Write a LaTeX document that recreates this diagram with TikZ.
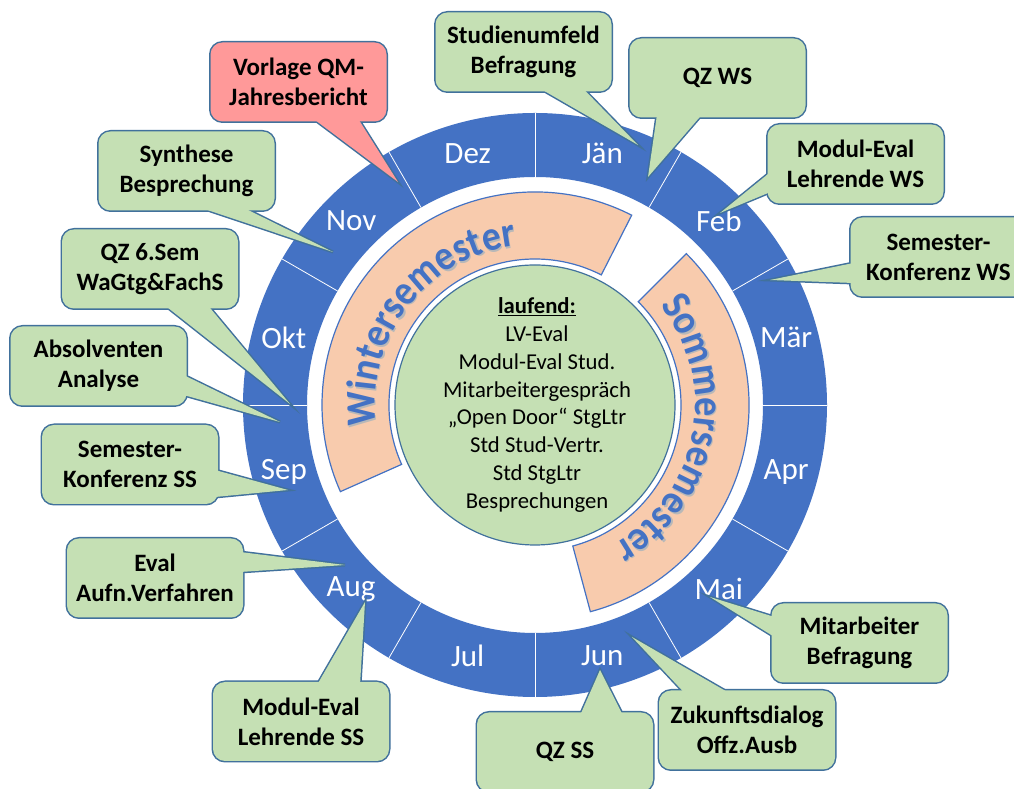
\documentclass[tikz,border=0pt]{standalone}
\usepackage{fontspec}
\setmainfont{Carlito}
\newfontfamily\semfam[FakeStretch=0.9]{Carlito}
\usetikzlibrary{calc,decorations.text}
\definecolor{ringblue}{HTML}{4472C4}
\definecolor{cborder}{HTML}{41719C}
\definecolor{cgreen}{HTML}{C5E0B4}
\definecolor{cpeach}{HTML}{F8CBAD}
\definecolor{cred}{HTML}{FF9999}
\newcommand{\semfont}{\semfam\bfseries\fontsize{42}{44}\selectfont}
% #1 name, #2 centre, #3 tip, #4 fill, #5 base point 1 (offset), #6 base point 2 (offset), #7 text
\newcommand{\mkcallout}[7]{%
  \coordinate (#1) at (#2);
  \coordinate (#1tip) at (#3);
  \path[calloutedge, fill=#4] ($(#1)+(#5)$) -- (#1tip) -- ($(#1)+(#6)$) -- cycle;
  \path[calloutedge, fill=#4, rounded corners=12] ($(#1)+(-88,-39.5)$) rectangle ($(#1)+(88,39.5)$);
  \fill[#4] ($(#1)+(#5)$) -- (#1tip) -- ($(#1)+(#6)$) -- cycle;
  \fill[#4, rounded corners=12] ($(#1)+(-88,-39.5)$) rectangle ($(#1)+(88,39.5)$);
  \node[calloutlabel] (#1text) at (#1) {#7};
}
\begin{document}
\begin{tikzpicture}[x=1pt,y=1pt,
  calloutedge/.style={draw=cborder, line width=3},
  calloutlabel/.style={align=center, font=\bfseries\fontsize{25}{30}\selectfont, text=black, inner sep=0},
  monthlabel/.style={text=white, font=\fontsize{31}{37}\selectfont, inner sep=0},
  divider/.style={draw=white, line width=0.8},
  semarc/.style={fill=cpeach, draw=ringblue, line width=1.2}
]
\useasboundingbox (0,0) rectangle (1014,789);
\clip (0,0) rectangle (1014,789);
\fill[white] (0,0) rectangle (1014,789);
\coordinate (C) at (535,384);

% month ring
\fill[ringblue, even odd rule] (C) circle (292) (C) circle (228);
\foreach \a in {0,30,...,330}
  \draw[divider] ($(C)+(\a:228)$) -- ($(C)+(\a:292)$);
\foreach \lab/\ang [count=\i] in {Dez/105, Jän/75, Feb/45, Mär/15, Apr/-15, Mai/-45, Jun/-75, Jul/-105, Aug/-135, Sep/-165, Okt/165, Nov/135}
  \node[monthlabel] (month\i) at ($(C)+(\ang:260)$) {\lab};

% semester arcs
\path[semarc] ($(C)+(63:213)$) arc[start angle=63, end angle=204, radius=213]
  -- ($(C)+(204:146)$) arc[start angle=204, end angle=63, radius=146] -- cycle;
\path[semarc] ($(C)+(-75:214)$) arc[start angle=-75, end angle=45, radius=214]
  -- ($(C)+(45:146)$) arc[start angle=45, end angle=-75, radius=146] -- cycle;

\path[decorate, decoration={text along path, text={|\semfont|Wintersemester}, text align=center, text color=black!28}]
  ($(C)+(1.5,-1.5)+(200:160)$) arc[start angle=200, end angle=84, radius=160];
\path[decorate, decoration={text along path, text={|\semfont|Wintersemester}, text align=center, text color=ringblue}]
  ($(C)+(200:160)$) arc[start angle=200, end angle=84, radius=160];
\path[decorate, decoration={text along path, text={|\semfont|Sommersemester}, text align=center, text color=black!28}]
  ($(C)+(1.5,-1.5)+(50:160)$) arc[start angle=50, end angle=-72, radius=160];
\path[decorate, decoration={text along path, text={|\semfont|Sommersemester}, text align=center, text color=ringblue}]
  ($(C)+(50:160)$) arc[start angle=50, end angle=-72, radius=160];

% centre circle
\filldraw[fill=cgreen, draw=cborder, line width=1.2] (C) circle (140);
\node[align=center, font=\fontsize{22.7}{27.8}\selectfont, inner sep=0] (laufend) at ($(C)+(2,0)$)
  {\textbf{\underline{laufend:}}\\LV-Eval\\Modul-Eval Stud.\\Mitarbeitergespräch\\„Open Door“ StgLtr\\Std Stud-Vertr.\\Std StgLtr\\Besprechungen};

% callouts
\mkcallout{vorlage}{298.5,707}{398,607}{cred}{14.5,-36.5}{59.5,-36.5}{Vorlage QM-\\Jahresbericht}
\mkcallout{studien}{523.5,737}{638,644}{cgreen}{16.5,-36.5}{59.5,-36.5}{Studienumfeld\\Befragung}
\mkcallout{qzws}{717.5,711}{648,612}{cgreen}{-60.5,-36.5}{-15.5,-36.5}{QZ WS}
\mkcallout{modws}{855.5,625}{720,576}{cgreen}{-85,-8}{-85,-28}{Modul-Eval\\Lehrende WS}
\mkcallout{semkws}{938.5,532}{770,509}{cgreen}{-85,-6}{-85,-26}{Semester-\\Konferenz WS}
\mkcallout{synth}{186.5,618}{333,537}{cgreen}{13.5,-36.5}{56.5,-36.5}{Synthese\\Besprechung}
\mkcallout{qzsechs}{150,520}{290,385}{cgreen}{15,-36.5}{58,-36.5}{QZ 6.Sem\\WaGtg\&FachS}
\mkcallout{absol}{98.5,423}{280,367}{cgreen}{85,-9}{85,-29}{Absolventen\\Analyse}
\mkcallout{semkss}{130,324.5}{288,299}{cgreen}{85,-5.5}{85,-32.5}{Semester-\\Konferenz SS}
\mkcallout{evalaufn}{155,211}{345,224}{cgreen}{85,26}{85,6}{Eval\\Aufn.Verfahren}
\mkcallout{modss}{301,67.5}{365,187}{cgreen}{16,36.5}{59,36.5}{Modul-Eval\\Lehrende SS}
\mkcallout{mitbef}{859.5,146}{710,192}{cgreen}{-85,26}{-85,6}{Mitarbeiter\\Befragung}
\mkcallout{zukunft}{747,59}{632,152}{cgreen}{-62,36.5}{-17,36.5}{Zukunftsdialog\\Offz.Ausb}
\mkcallout{qzss}{565,37}{600,119}{cgreen}{15,36.5}{58,36.5}{QZ SS}
\end{tikzpicture}
\end{document}
